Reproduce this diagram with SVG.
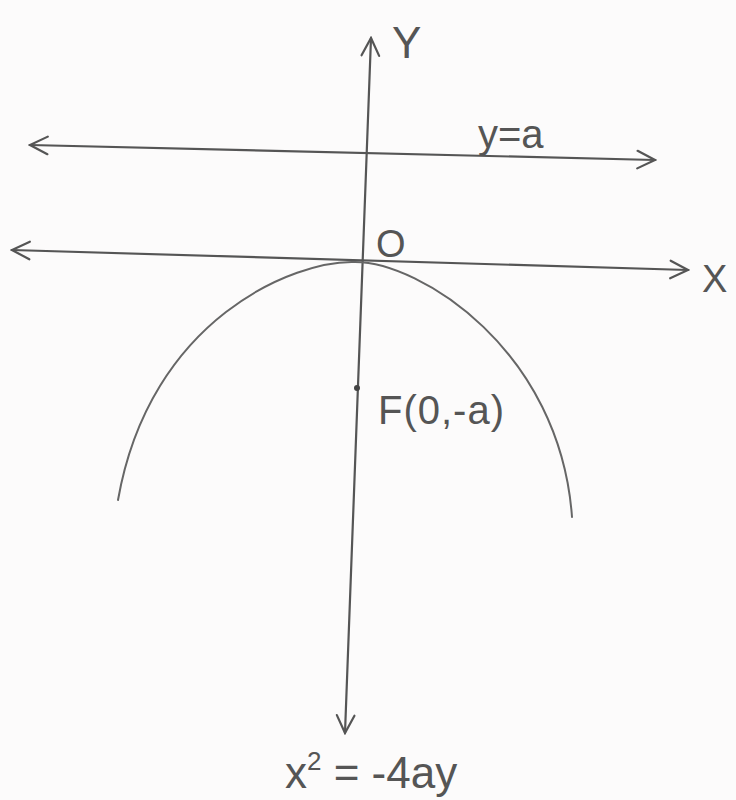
<svg xmlns="http://www.w3.org/2000/svg" width="736" height="800" viewBox="0 0 736 800">
<style>
.ln{stroke:#555;stroke-width:2.2;fill:none;stroke-linecap:round}
.cv{stroke:#666;stroke-width:2;fill:none;stroke-linecap:round}
.t{font-family:"Liberation Sans",Arial,sans-serif;fill:#555;font-weight:normal}
</style>
<defs>
<marker id="ah" viewBox="0 0 20 20" refX="18" refY="10" markerWidth="22" markerHeight="22" markerUnits="userSpaceOnUse" orient="auto-start-reverse">
<path d="M2,2 L18,10 L2,18" fill="none" stroke="#555" stroke-width="2" stroke-linecap="round"/>
</marker>
</defs>
<rect width="736" height="800" fill="#fcfbfb"/>
<g id="connectors">
<line id="directrix" class="ln" x1="30" y1="145" x2="655" y2="160" marker-start="url(#ah)" marker-end="url(#ah)"/>
<line id="x-axis" class="ln" x1="12" y1="250" x2="688" y2="270" marker-start="url(#ah)" marker-end="url(#ah)"/>
<line id="y-axis" class="ln" x1="345" y1="733" x2="371" y2="38" marker-start="url(#ah)" marker-end="url(#ah)"/>
</g>
<g id="parabola">
<path class="cv" d="M355,262 C295,260 150,318 118,500"/>
<path class="cv" d="M355,262 C420,262 560,350 572,517"/>
</g>
<g id="focus">
<circle cx="357" cy="388" r="3" fill="#444"/>
<text class="t" x="378" y="424" font-size="40" letter-spacing="1">F(0,-a)</text>
</g>
<g id="labels">
<text class="t" x="392" y="58" font-size="44">Y</text>
<text class="t" x="478" y="148" font-size="40">y=a</text>
<text class="t" x="376" y="257" font-size="38">O</text>
<text class="t" x="702" y="292" font-size="38">X</text>
<text class="t" x="285" y="788" font-size="44">x<tspan font-size="26" dy="-18">2</tspan><tspan dy="18"> = -4ay</tspan></text>
</g>
</svg>
